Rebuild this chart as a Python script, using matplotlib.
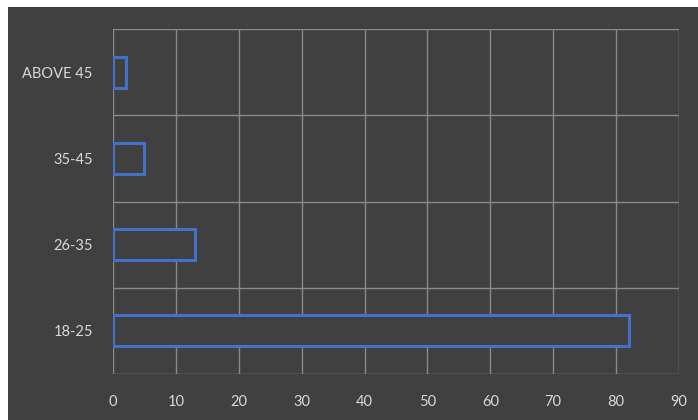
import matplotlib
matplotlib.use("Agg")
import matplotlib.pyplot as plt
from matplotlib.patches import Rectangle

categories = ["18-25", "26-35", "35-45", "ABOVE 45"]
values = [82, 13, 5, 2]
xticks = [0, 10, 20, 30, 40, 50, 60, 70, 80, 90]

W, H = 698, 420
fig = plt.figure(figsize=(W / 100, H / 100), dpi=100, facecolor="white")
fig.patches.append(Rectangle((8 / W, 0), 1 - 8 / W, 1 - 7 / H, transform=fig.transFigure,
                             facecolor="#404040", edgecolor="none", zorder=-10))

left, right, top, bottom = 113, 679, 29, 374
ax = fig.add_axes([left / W, 1 - bottom / H, (right - left) / W, (bottom - top) / H])
ax.set_zorder(5)
ax.patch.set_alpha(0)

ypos = list(range(len(categories)))
ax.barh(ypos, values, height=0.36, facecolor="#404040", edgecolor="#4370C8",
        linewidth=2.2, zorder=3)

ax.set_xlim(0, 90)
ax.set_ylim(-0.5, len(categories) - 0.5)
ax.set_xticks(xticks)
ax.set_xticklabels([str(t) for t in xticks])
ax.set_yticks(ypos)
ax.set_yticklabels(categories)

# horizontal grid lines at category boundaries
for b in [i - 0.5 for i in range(len(categories) + 1)]:
    ax.axhline(b, color="#8a8a8a", linewidth=1.0, zorder=1)
for t in xticks:
    ax.axvline(t, color="#8a8a8a", linewidth=1.0, zorder=1)

for s in ax.spines.values():
    s.set_visible(False)
ax.tick_params(axis="both", length=0, colors="#d9d9d9", labelsize=10.5)
ax.tick_params(axis="x", pad=15)
ax.tick_params(axis="y", pad=14.5)
for lab in ax.get_xticklabels() + ax.get_yticklabels():
    lab.set_fontfamily(["Lato", "DejaVu Sans"])

fig.savefig("out.png", dpi=100, facecolor="white")
